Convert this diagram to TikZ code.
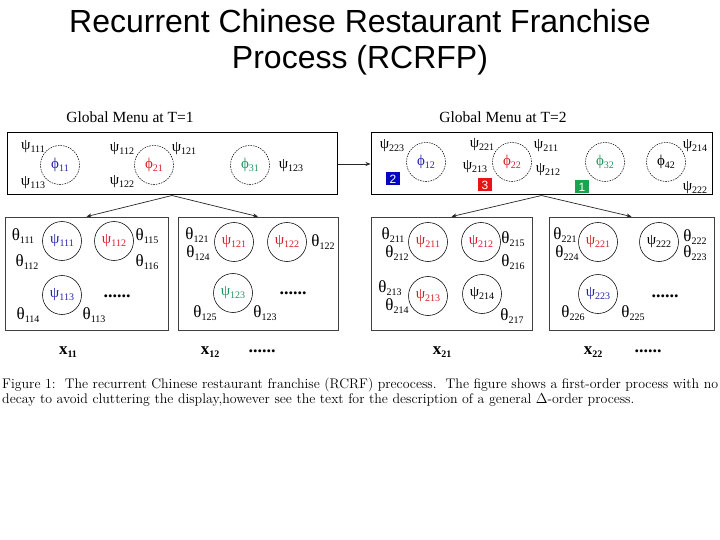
\documentclass[tikz,border=0pt]{standalone}
\usepackage{fontspec}
\newfontfamily\tnr{Liberation Serif}
\newfontfamily\ars{Liberation Sans}
\usetikzlibrary{arrows.meta}
\definecolor{cblue}{RGB}{35,35,165}
\definecolor{cred}{RGB}{215,30,40}
\definecolor{cgreen}{RGB}{30,150,95}
\definecolor{bblue}{RGB}{5,5,195}
\definecolor{bred}{RGB}{230,20,20}
\definecolor{bgreen}{RGB}{25,165,80}
\newcommand\lab[3]{{\tnr\fontsize{#1}{#1}\selectfont #2\raisebox{-3pt}{\fontsize{10}{10}\selectfont #3}}}
\tikzset{
  gbox/.style={draw=black, line width=1pt, minimum width=330pt, minimum height=62pt, inner sep=0pt},
  rbox/.style={draw=black!75, line width=0.8pt, minimum height=113pt, inner sep=0pt},
  gcirc/.style={circle, draw=black, dash pattern=on 1.6pt off 1pt, line width=0.5pt, minimum size=39pt, inner sep=0pt},
  rcirc/.style={circle, draw=black, line width=0.55pt, minimum size=39pt, inner sep=0pt},
  txt/.style={inner sep=0pt},
  nbox/.style={minimum width=14pt, minimum height=13pt, inner sep=0pt, text=white, font=\ars\fontsize{12}{12}\selectfont},
  conn/.style={draw=black!85, line width=0.7pt, -{Stealth[length=5pt,width=4pt]}},
  dots/.style={inner sep=0pt, font=\tnr\bfseries\fontsize{18}{18}\selectfont},
}
\begin{document}
\begin{tikzpicture}[x=1pt,y=-1pt]
\useasboundingbox (0,0) rectangle (720,540);
\clip (0,0) rectangle (720,540);
% title
\node[txt, anchor=base] (title1) at (360,33) {\ars\fontsize{32}{36}\selectfont Recurrent Chinese Restaurant Franchise};
\node[txt, anchor=base] (title2) at (360,69) {\ars\fontsize{32}{36}\selectfont Process (RCRFP)};
% global menu headings
\node[txt, anchor=base] (h1) at (130,123) {\tnr\fontsize{15.5}{16}\selectfont Global Menu at T=1};
\node[txt, anchor=base] (h2) at (503,123) {\tnr\fontsize{15.5}{16}\selectfont Global Menu at T=2};
% global boxes
\node[gbox] (G1) at (172,164) {};
\node[gbox, minimum width=341pt] (G2) at (541.5,164) {};
% restaurant boxes
\node[rbox, minimum width=163pt] (R11) at (86.5,273.5) {};
\node[rbox, minimum width=160pt] (R12) at (258,273.5) {};
\node[rbox, minimum width=161pt] (R21) at (451.5,273.5) {};
\node[rbox, minimum width=165pt] (R22) at (631.5,273.5) {};
% connectors
\draw[conn] (G1.east) -- (G2.west);
\draw[conn] (G1.south) -- (R11.north);
\draw[conn] (G1.south) -- (R12.north);
\draw[conn] (G2.south) -- (R21.north);
\draw[conn] (G2.south) -- (R22.north);
% ---- Global menu T=1
\node[gcirc, text=cblue] (p11) at (60,165) {\lab{15}{ϕ}{11}};
\node[gcirc, text=cred] (p21) at (154,165) {\lab{15}{ϕ}{21}};
\node[gcirc, text=cgreen] (p31) at (250,165) {\lab{15}{ϕ}{31}};
\node[txt] (g111) at (33,147) {\lab{15}{ψ}{111}};
\node[txt] (g113) at (33,183) {\lab{15}{ψ}{113}};
\node[txt] (g112) at (122,149) {\lab{15}{ψ}{112}};
\node[txt] (g121) at (184,149) {\lab{15}{ψ}{121}};
\node[txt] (g122) at (122,182) {\lab{15}{ψ}{122}};
\node[txt] (g123) at (291,166) {\lab{15}{ψ}{123}};
% ---- Global menu T=2
\node[gcirc, text=cblue] (p12) at (426,162) {\lab{15}{ϕ}{12}};
\node[gcirc, text=cred] (p22) at (512,162) {\lab{15}{ϕ}{22}};
\node[gcirc, text=cgreen] (p32) at (605,162) {\lab{15}{ϕ}{32}};
\node[gcirc, text=black] (p42) at (666,162) {\lab{15}{ϕ}{42}};
\node[txt] (h223) at (392,146) {\lab{15}{ψ}{223}};
\node[txt] (h221) at (482,145) {\lab{15}{ψ}{221}};
\node[txt] (h211) at (546,146) {\lab{15}{ψ}{211}};
\node[txt] (h213) at (475,167) {\lab{15}{ψ}{213}};
\node[txt] (h212) at (548,170) {\lab{15}{ψ}{212}};
\node[txt] (h214) at (695,146) {\lab{15}{ψ}{214}};
\node[txt] (h222) at (695,188) {\lab{15}{ψ}{222}};
\node[nbox, fill=bblue] (b2) at (393,179) {2};
\node[nbox, fill=bred] (b3) at (485,185) {3};
\node[nbox, fill=bgreen] (b1) at (582,187) {1};
% ---- Restaurant 11
\node[rcirc, text=cblue] (r111) at (62,241) {\lab{15}{ψ}{111}};
\node[rcirc, text=cred] (r112) at (114,241) {\lab{15}{ψ}{112}};
\node[rcirc, text=cblue] (r113) at (62,295) {\lab{15}{ψ}{113}};
\node[dots] (d11) at (117,296) {......};
\node[txt] (t111) at (23,236) {\lab{17}{θ}{111}};
\node[txt] (t112) at (27,262) {\lab{17}{θ}{112}};
\node[txt] (t115) at (147,236) {\lab{17}{θ}{115}};
\node[txt] (t116) at (147,262) {\lab{17}{θ}{116}};
\node[txt] (t114) at (28,315) {\lab{17}{θ}{114}};
\node[txt] (t113) at (94,315) {\lab{17}{θ}{113}};
% ---- Restaurant 12
\node[rcirc, text=cred] (r121) at (234,242) {\lab{15}{ψ}{121}};
\node[rcirc, text=cred] (r122) at (287,242) {\lab{15}{ψ}{122}};
\node[rcirc, text=cgreen] (r123) at (233,293) {\lab{15}{ψ}{123}};
\node[dots] (d12) at (293,293) {......};
\node[txt] (t121) at (197,235) {\lab{17}{θ}{121}};
\node[txt] (t124) at (198,253) {\lab{17}{θ}{124}};
\node[txt] (t122) at (323,242) {\lab{17}{θ}{122}};
\node[txt] (t125) at (205,313) {\lab{17}{θ}{125}};
\node[txt] (t123) at (265,313) {\lab{17}{θ}{123}};
% ---- Restaurant 21
\node[rcirc, text=cred] (r211) at (428,242) {\lab{15}{ψ}{211}};
\node[rcirc, text=cred] (r212) at (481,242) {\lab{15}{ψ}{212}};
\node[rcirc, text=cred] (r213) at (428,296) {\lab{15}{ψ}{213}};
\node[rcirc, text=black] (r214) at (482,294) {\lab{15}{ψ}{214}};
\node[txt] (t211) at (393,235) {\lab{17}{θ}{211}};
\node[txt] (t212) at (397,253) {\lab{17}{θ}{212}};
\node[txt] (t215) at (513,239) {\lab{17}{θ}{215}};
\node[txt] (t216) at (513,262) {\lab{17}{θ}{216}};
\node[txt] (t213) at (390,288) {\lab{17}{θ}{213}};
\node[txt] (t214) at (397,306) {\lab{17}{θ}{214}};
\node[txt] (t217) at (512,316) {\lab{17}{θ}{217}};
% ---- Restaurant 22
\node[rcirc, text=cred] (r221) at (598,242) {\lab{15}{ψ}{221}};
\node[rcirc, text=black] (r222) at (659,242) {\lab{15}{ψ}{222}};
\node[rcirc, text=cblue] (r223) at (598,294) {\lab{15}{ψ}{223}};
\node[dots] (d22) at (665,296) {......};
\node[txt] (t221) at (565,235) {\lab{17}{θ}{221}};
\node[txt] (t224) at (567,253) {\lab{17}{θ}{224}};
\node[txt] (t222) at (695,237) {\lab{17}{θ}{222}};
\node[txt] (t223) at (695,253) {\lab{17}{θ}{223}};
\node[txt] (t226) at (573,313) {\lab{17}{θ}{226}};
\node[txt] (t225) at (633,313) {\lab{17}{θ}{225}};
% ---- observations
\node[txt] (x11) at (68,352) {\lab{17}{\bfseries x}{11}};
\node[txt] (x12) at (210,352) {\lab{17}{\bfseries x}{12}};
\node[dots] (dx1) at (262,351) {......};
\node[txt] (x21) at (442,352) {\lab{17}{\bfseries x}{21}};
\node[txt] (x22) at (593,352) {\lab{17}{\bfseries x}{22}};
\node[dots] (dx2) at (648,351) {......};
% ---- caption
\node[txt, anchor=base west] (cap1) at (2,388) {\fontsize{13.9}{15}\selectfont Figure 1:\ \ The recurrent Chinese restaurant franchise (RCRF) precocess.\ \ The figure shows a first-order process with no};
\node[txt, anchor=base west] (cap2) at (2,403) {\fontsize{13.9}{15}\selectfont decay to avoid cluttering the display,however see the text for the description of a general $\Delta$-order process.};
\end{tikzpicture}
\end{document}
